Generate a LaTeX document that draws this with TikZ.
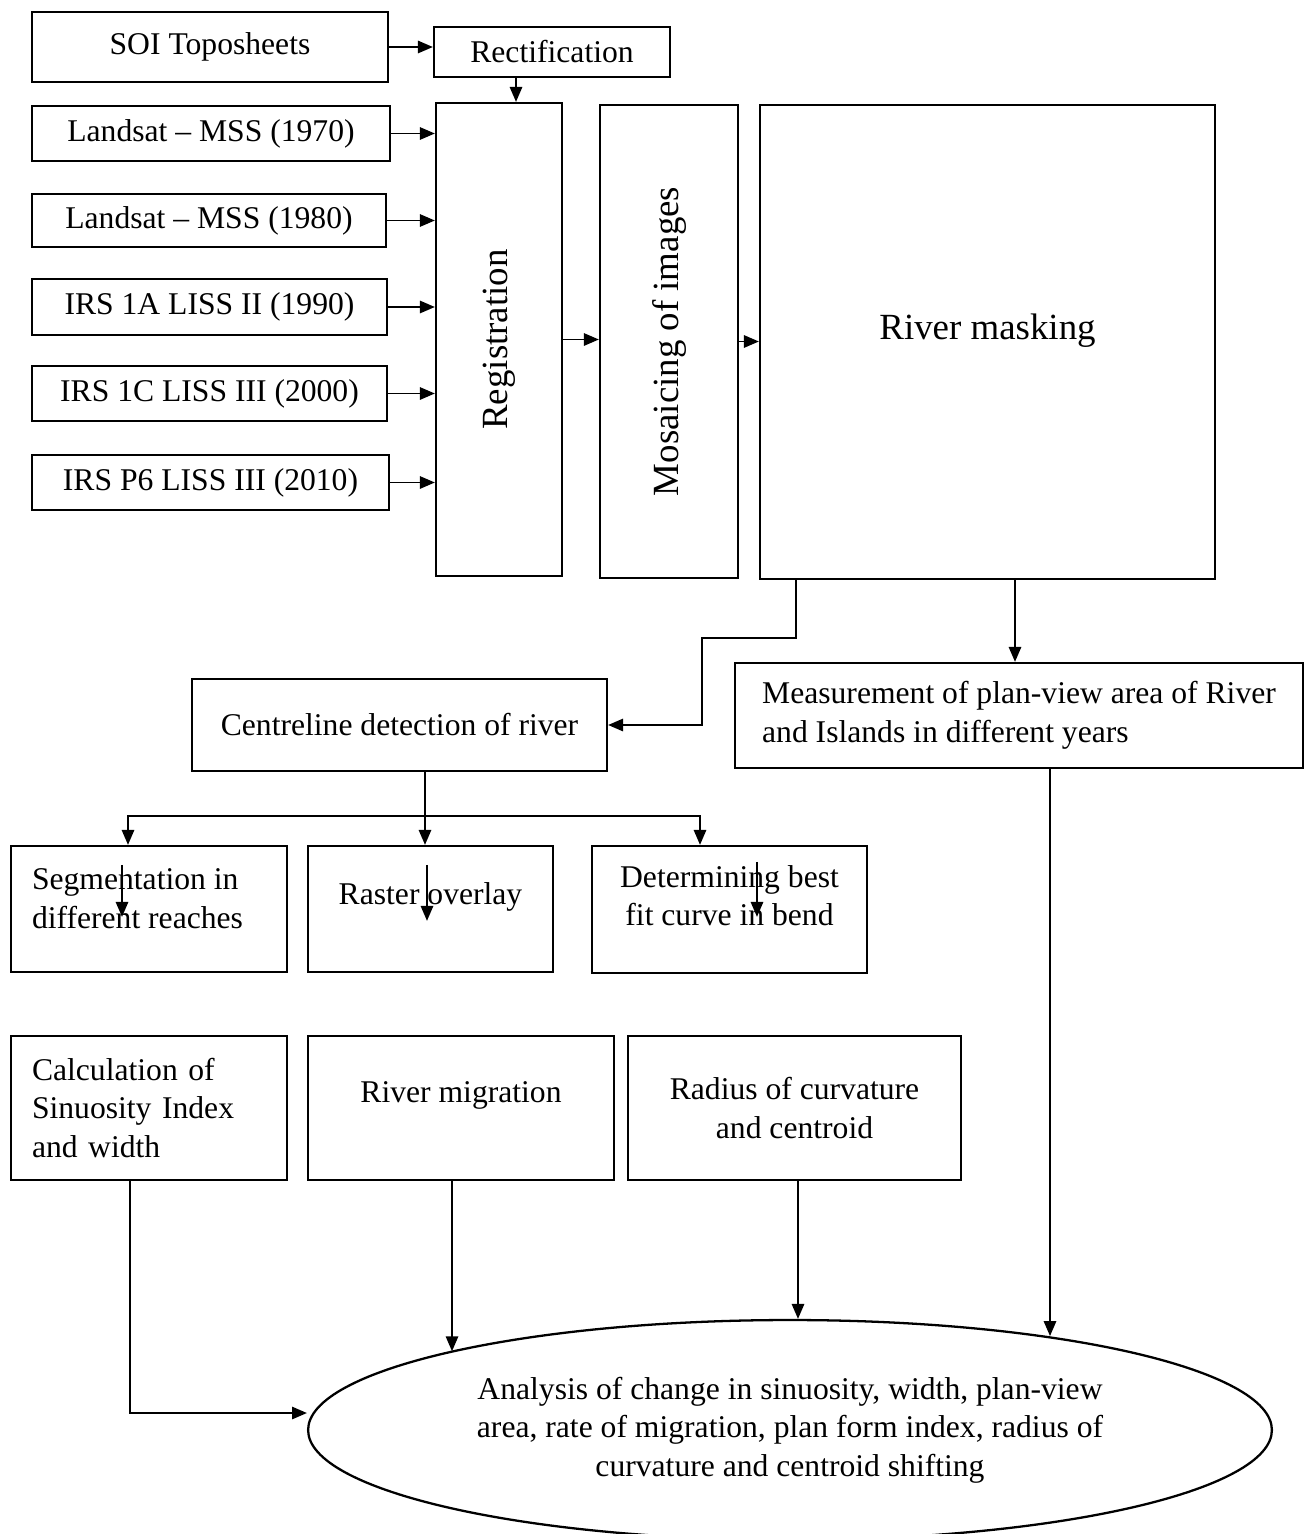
\documentclass[tikz,border=0pt]{standalone}
\usepackage{fontspec}
\setmainfont{Liberation Serif}
\usetikzlibrary{arrows.meta,shapes.geometric}

\begin{document}
\begin{tikzpicture}[x=0.02cm, y=-0.02cm, >={Triangle[length=8.5pt,width=7pt]}, line width=1.1pt,
    box/.style={draw, line width=1.3pt, inner sep=0pt, align=center, font=\fontsize{18}{22}\selectfont},
    bigbox/.style={box, font=\fontsize{21}{25}\selectfont}]
    \useasboundingbox (0,0) rectangle (1309,1534);

    % input data
    \node[box, minimum width=7.12cm, minimum height=1.4cm] (soi) at (210,47) {SOI Toposheets};
    \node[box, minimum width=4.72cm, minimum height=1cm] (rect) at (552,52) {Rectification};
    \node[box, minimum width=7.16cm, minimum height=1.1cm] (mss70) at (211,133.5) {Landsat – MSS (1970)};
    \node[box, minimum width=7.08cm, minimum height=1.06cm] (mss80) at (209,220.5) {Landsat – MSS (1980)};
    \node[box, minimum width=7.1cm, minimum height=1.12cm] (liss90) at (209.5,307) {IRS 1A LISS II (1990)};
    \node[box, minimum width=7.1cm, minimum height=1.1cm] (liss00) at (209.5,393.5) {IRS 1C LISS III (2000)};
    \node[box, minimum width=7.14cm, minimum height=1.1cm] (liss10) at (210.5,482.5) {IRS P6 LISS III (2010)};

    % pre-processing
    \node[bigbox, minimum width=2.52cm, minimum height=9.46cm] (reg) at (499,339.5) {\rotatebox{90}{Registration}};
    \node[bigbox, minimum width=2.76cm, minimum height=9.46cm] (mosaic) at (669,341.5) {\rotatebox{90}{Mosaicing of images}};
    \node[bigbox, minimum width=9.1cm, minimum height=9.48cm] (mask) at (987.5,342)
        {\raisebox{0.06cm}[0pt][0pt]{River masking}};

    % extraction
    \node[box, align=left, minimum width=11.36cm, minimum height=2.1cm] (measure) at (1019,715.5)
        {Measurement of plan-view area of River\\and Islands in different years};
    \node[box, minimum width=8.3cm, minimum height=1.84cm] (centre) at (399.5,725) {Centreline detection of river};
    \node[box, minimum width=5.52cm, minimum height=2.52cm] (seg) at (149,909)
        {\raisebox{0.06cm}[0pt][0pt]{\parbox{4.68cm}{Segmentation in\\different reaches}}};
    \node[box, minimum width=4.9cm, minimum height=2.52cm] (raster) at (430.5,909)
        {\raisebox{0.1cm}[0pt][0pt]{Raster overlay}};
    \node[box, minimum width=5.5cm, minimum height=2.54cm] (best) at (729.5,909.5)
        {\raisebox{0.06cm}[0pt][0pt]{\begin{tabular}{@{}c@{}}Determining best\\fit curve in bend\end{tabular}}};

    % parameters
    \node[box, align=left, text width=4.68cm, minimum width=5.52cm, minimum height=2.88cm] (calc) at (149,1108)
        {Calculation of\\Sinuosity Index\\and width};
    \node[box, minimum width=6.12cm, minimum height=2.88cm] (migr) at (461,1108)
        {\raisebox{0.12cm}[0pt][0pt]{River migration}};
    \node[box, minimum width=6.66cm, minimum height=2.88cm] (radius) at (794.5,1108) {Radius of curvature\\and centroid};

    % analysis
    \node[box, ellipse, minimum width=19.28cm, minimum height=4.4cm] (ana) at (790,1430)
        {Analysis of change in sinuosity, width, plan-view\\area, rate of migration, plan form index, radius of\\curvature and centroid shifting};

    % arrows
    \draw[->] (soi) -- (soi -| rect.west);
    \draw[->] ([xshift=-0.72cm]rect.south) -- ([xshift=-0.72cm]rect.south |- reg.north);
    \foreach \n in {mss70,mss80,liss90,liss00,liss10}
        \draw[->] (\n.east) -- (\n.east -| reg.west);
    \draw[->] (reg.east) -- (reg.east -| mosaic.west);
    \draw[->] (mosaic.east) -- (mosaic.east -| mask.west);
    \draw[->] ([xshift=0.74cm]mask.south west) -- ++(0,58) -- ++(-94,0) |- (centre.east);
    \draw[->] ([xshift=0.55cm]mask.south) -- ([xshift=0.55cm]mask.south |- measure.north);

    \draw ([xshift=0.51cm]centre.south) -- ++(0,44) coordinate (fork);
    \draw[->] (fork) -| ([xshift=-0.42cm]seg.north);
    \draw[->] (fork) -- (fork |- raster.north);
    \draw[->] (fork) -| ([xshift=-0.59cm]best.north);

    % short arrows inside the boxes
    \draw[->] ([xshift=-0.54cm,yshift=-0.4cm]seg.north) -- ++(0,52);
    \draw[->] ([xshift=-0.07cm,yshift=-0.4cm]raster.north) -- ++(0,56);
    \draw[->] ([xshift=0.55cm,yshift=-0.34cm]best.north) -- ++(0,55);

    \draw[->] ([xshift=-0.38cm]calc.south) |- ([yshift=0.34cm]ana.west);
    \draw[->] ([xshift=-0.18cm]migr.south) -- ([xshift=-0.18cm]migr.south |- ana.167);
    \draw[->] ([xshift=0.07cm]radius.south) -- ([xshift=0.07cm]radius.south |- ana.north);
    \draw[->] ([xshift=0.62cm]measure.south) -- ([xshift=0.62cm]measure.south |- ana.20);
\end{tikzpicture}
\end{document}
